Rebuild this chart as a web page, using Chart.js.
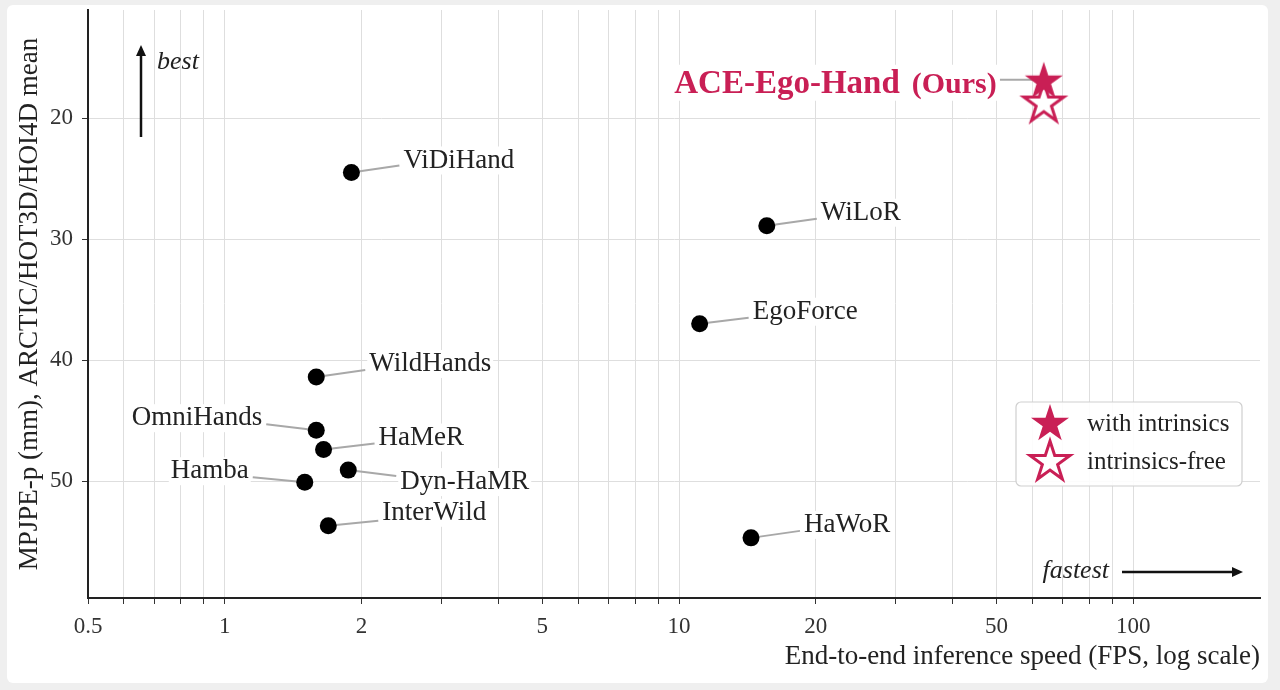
<!DOCTYPE html>
<html>
<head>
<meta charset="utf-8">
<script src="https://cdn.jsdelivr.net/npm/chart.js@4.4.0/dist/chart.umd.min.js"></script>
<style>
  html, body { margin: 0; padding: 0; background: #efefef; }
  #card { position: absolute; left: 7px; top: 5px; width: 1261px; height: 678px; background: #fff; border-radius: 6px; }
  #wrap { position: absolute; left: 0; top: 0; width: 1280px; height: 690px; }
</style>
</head>
<body>
<div id="card"></div>
<div id="wrap"><canvas id="chart" width="1280" height="690"></canvas></div>
<script>
// values (FPS on log axis, MPJPE-p in mm)
const methods = ['ViDiHand', 'WiLoR', 'EgoForce', 'WildHands', 'OmniHands', 'HaMeR', 'Dyn-HaMR', 'Hamba', 'InterWild', 'HaWoR'];
const fps = [1.90, 15.6, 11.1, 1.59, 1.59, 1.65, 1.87, 1.50, 1.69, 14.4];
const mpjpe = [24.5, 28.9, 37.0, 41.4, 45.8, 47.4, 49.1, 50.1, 53.7, 54.7];

const oursName = 'ACE-Ego-Hand';
const oursFps = [63.5];
const oursWithIntrinsics = [17.0];
const oursIntrinsicsFree = [18.8];

const xTicks = [0.5, 0.6, 0.7, 0.8, 0.9, 1, 2, 3, 4, 5, 6, 7, 8, 9, 10, 20, 30, 40, 50, 60, 70, 80, 90, 100];
const xTickLabels = [0.5, 1, 2, 5, 10, 20, 50, 100];
const yTicks = [20, 30, 40, 50];

const SERIF = '"Liberation Serif", "Times New Roman", serif';
const CRIMSON = '#c91f55';
const INK = '#222';

// where each name sits relative to its dot (pixels)
const labelStyle = {
  'ViDiHand':  { dx: 48, dy: -7, side: 'right', ty: -5 },
  'WiLoR':     { dx: 50, dy: -7, side: 'right', ty: -6 },
  'EgoForce':  { dx: 49, dy: -6, side: 'right', ty: -6 },
  'WildHands': { dx: 49, dy: -7, side: 'right', ty: -6 },
  'OmniHands': { dx: -50, dy: -6, side: 'left', ty: -6 },
  'HaMeR':     { dx: 51, dy: -6, side: 'right', ty: -6 },
  'Dyn-HaMR':  { dx: 48, dy: 6, side: 'right', ty: 6 },
  'Hamba':     { dx: -52, dy: -5, side: 'left', ty: -6 },
  'InterWild': { dx: 50, dy: -5, side: 'right', ty: -8 },
  'HaWoR':     { dx: 49, dy: -7, side: 'right', ty: -6 }
};

function makeStar(R, fill, stroke, lw) {
  const pad = lw + 2;
  const size = Math.ceil(2 * (R + pad));
  const c = document.createElement('canvas');
  c.width = size; c.height = size;
  const g = c.getContext('2d');
  g.beginPath();
  for (let i = 0; i < 10; i++) {
    const r = i % 2 ? R * 0.382 : R;
    const a = -Math.PI / 2 + i * Math.PI / 5;
    g.lineTo(size / 2 + r * Math.cos(a), size / 2 + r * Math.sin(a));
  }
  g.closePath();
  g.fillStyle = fill;
  g.fill();
  if (lw > 0) {
    g.lineJoin = 'miter';
    g.lineWidth = lw;
    g.strokeStyle = stroke;
    g.stroke();
  }
  return c;
}

const starFilled = makeStar(20, CRIMSON, CRIMSON, 0);
const starHollow = makeStar(21, '#fff', CRIMSON, 3);

function arrow(ctx, x1, y1, x2, y2) {
  const ang = Math.atan2(y2 - y1, x2 - x1);
  ctx.save();
  ctx.strokeStyle = '#111';
  ctx.fillStyle = '#111';
  ctx.lineWidth = 2.5;
  ctx.beginPath();
  ctx.moveTo(x1, y1);
  ctx.lineTo(x2 - 6 * Math.cos(ang), y2 - 6 * Math.sin(ang));
  ctx.stroke();
  ctx.translate(x2, y2);
  ctx.rotate(ang);
  ctx.beginPath();
  ctx.moveTo(0, 0);
  ctx.lineTo(-11, -5);
  ctx.lineTo(-11, 5);
  ctx.closePath();
  ctx.fill();
  ctx.restore();
}

function boxedText(ctx, text, x, y, align) {
  const w = ctx.measureText(text).width;
  const left = align === 'left' ? x : x - w;
  ctx.fillStyle = '#fff';
  ctx.fillRect(left - 2, y - 14, w + 4, 28);
  ctx.fillStyle = INK;
  ctx.textAlign = align;
  ctx.fillText(text, x, y);
}

const annotations = {
  id: 'annotations',
  beforeDatasetsDraw(chart) {
    const ctx = chart.ctx;
    const pts = chart.getDatasetMeta(2).data;
    ctx.save();
    ctx.font = '27px ' + SERIF;
    ctx.textBaseline = 'middle';
    pts.forEach((p, i) => {
      const s = labelStyle[methods[i]];
      const ex = p.x + s.dx, ey = p.y + s.dy;
      ctx.strokeStyle = '#a8a8a8';
      ctx.lineWidth = 2;
      ctx.beginPath();
      ctx.moveTo(p.x, p.y);
      ctx.lineTo(ex, ey);
      ctx.stroke();
      const tx = s.side === 'right' ? ex + 4 : ex - 4;
      boxedText(ctx, methods[i], tx, ey + s.ty, s.side === 'right' ? 'left' : 'right');
    });

    // our method label, to the left of the filled star
    const star = chart.getDatasetMeta(0).data[0];
    const ex = star.x - 44, ey = star.y - 2;
    ctx.strokeStyle = '#a8a8a8';
    ctx.lineWidth = 2;
    ctx.beginPath();
    ctx.moveTo(ex, ey);
    ctx.lineTo(star.x, ey);
    ctx.stroke();
    ctx.textBaseline = 'alphabetic';
    const oursTxt = '(Ours)';
    const gap = 12;
    ctx.font = 'bold 30px ' + SERIF;
    const w2 = ctx.measureText(oursTxt).width;
    ctx.font = 'bold 33px ' + SERIF;
    const w1 = ctx.measureText(oursName).width;
    const right = ex - 3, base = star.y + 11;
    const left = right - w2 - gap - w1;
    ctx.fillStyle = '#fff';
    ctx.fillRect(left - 4, base - 28, right - left + 7, 36);
    ctx.fillStyle = CRIMSON;
    ctx.textAlign = 'left';
    ctx.fillText(oursName, left, base);
    ctx.font = 'bold 30px ' + SERIF;
    ctx.fillText(oursTxt, right - w2, base);
    ctx.restore();
  },
  afterDraw(chart) {
    const ctx = chart.ctx;
    const ca = chart.chartArea;
    ctx.save();
    // "best" arrow
    arrow(ctx, ca.left + 53, ca.top + 127, ca.left + 53, ca.top + 35);
    ctx.font = 'italic 26px ' + SERIF;
    ctx.fillStyle = INK;
    ctx.textBaseline = 'middle';
    ctx.textAlign = 'left';
    ctx.fillText('best', ca.left + 69, ca.top + 52);
    // "fastest" arrow
    ctx.textAlign = 'right';
    ctx.fillText('fastest', ca.right - 151, ca.bottom - 27);
    arrow(ctx, ca.right - 138, ca.bottom - 26, ca.right - 17, ca.bottom - 26);

    // legend
    const bx = ca.right - 244, by = ca.top + 392, bw = 226, bh = 84;
    ctx.fillStyle = 'rgba(255,255,255,0.9)';
    ctx.strokeStyle = '#cfcfcf';
    ctx.lineWidth = 1.2;
    ctx.beginPath();
    ctx.roundRect(bx, by, bw, bh, 5);
    ctx.fill();
    ctx.stroke();
    const entries = [['with intrinsics', starFilled, 22], ['intrinsics-free', starHollow, 60]];
    ctx.font = '25px ' + SERIF;
    ctx.textAlign = 'left';
    entries.forEach(([txt, img, oy]) => {
      ctx.drawImage(img, bx + 34 - img.width / 2, by + oy - img.height / 2);
      ctx.fillStyle = INK;
      ctx.fillText(txt, bx + 71, by + oy);
    });
    ctx.restore();
  }
};

new Chart(document.getElementById('chart'), {
  type: 'scatter',
  data: {
    datasets: [
      {
        label: 'with intrinsics',
        data: oursFps.map((x, i) => ({ x: x, y: oursWithIntrinsics[i] })),
        pointStyle: starFilled,
        pointRadius: 20
      },
      {
        label: 'intrinsics-free',
        data: oursFps.map((x, i) => ({ x: x, y: oursIntrinsicsFree[i] })),
        pointStyle: starHollow,
        pointRadius: 21
      },
      {
        label: 'baselines',
        data: fps.map((x, i) => ({ x: x, y: mpjpe[i] })),
        pointStyle: 'circle',
        pointRadius: 8.5,
        backgroundColor: '#000',
        borderWidth: 0
      }
    ]
  },
  options: {
    responsive: false,
    animation: false,
    layout: { autoPadding: false, padding: { left: 0, top: 10, right: 20, bottom: 0 } },
    plugins: { legend: { display: false }, tooltip: { enabled: false } },
    scales: {
      x: {
        type: 'logarithmic',
        min: 0.5,
        max: 190,
        afterBuildTicks(scale) { scale.ticks = xTicks.map(v => ({ value: v })); },
        afterFit(scale) {
          scale.height = 92;
          scale.paddingLeft = 0;
          scale.paddingRight = 0;
        },
        ticks: {
          autoSkip: false,
          maxRotation: 0,
          padding: 9,
          color: '#333',
          font: { family: SERIF, size: 23 },
          callback: v => xTickLabels.includes(v) ? String(v) : ''
        },
        grid: { color: '#dedede', lineWidth: 1, tickColor: '#333', tickLength: 6 },
        border: { color: INK, width: 2 },
        title: {
          display: true,
          text: 'End-to-end inference speed (FPS, log scale)',
          align: 'end',
          color: INK,
          font: { family: SERIF, size: 27 },
          padding: { top: 4, bottom: 17 }
        }
      },
      y: {
        type: 'linear',
        reverse: true,
        min: 11.07,
        max: 59.67,
        afterBuildTicks(scale) { scale.ticks = yTicks.map(v => ({ value: v })); },
        afterFit(scale) {
          scale.width = 88;
          scale.paddingTop = 0;
          scale.paddingBottom = 0;
        },
        ticks: {
          padding: 9,
          color: '#333',
          font: { family: SERIF, size: 23 }
        },
        grid: { color: '#dedede', lineWidth: 1, tickColor: '#333', tickLength: 6 },
        border: { color: INK, width: 2 },
        title: {
          display: true,
          text: 'MPJPE-p (mm), ARCTIC/HOT3D/HOI4D mean',
          color: INK,
          font: { family: SERIF, size: 27 },
          padding: { top: 14, bottom: 0 }
        }
      }
    }
  },
  plugins: [annotations]
});
</script>
</body>
</html>
